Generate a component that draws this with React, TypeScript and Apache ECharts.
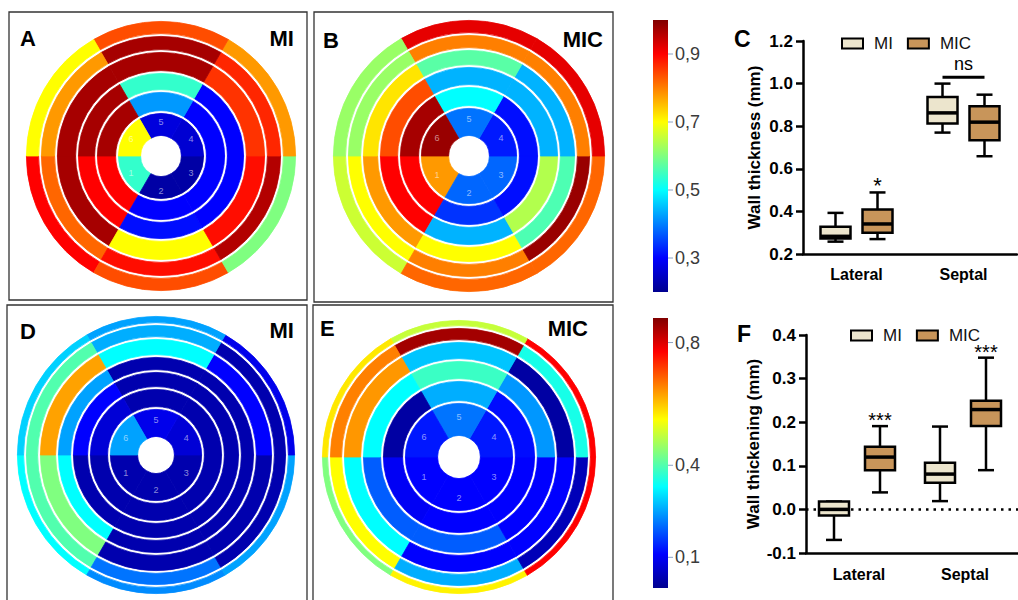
import React, { useEffect, useRef } from "react";
import * as echarts from "echarts";

// ---------------- data ----------------
const SECTOR_LABELS = ["1", "2", "3", "4", "5", "6"];

// Bullseye values, one row per ring (inner -> outer), one column per sector 1..6
const A_MI_THICKNESS = [
  [0.54, 0.22, 0.22, 0.26, 0.27, 0.7],
  [0.9, 0.3, 0.3, 0.3, 0.42, 0.97],
  [0.9, 0.31, 0.3, 0.3, 0.54, 0.97],
  [0.97, 0.7, 0.89, 0.86, 0.97, 0.97],
  [0.82, 0.89, 0.96, 0.87, 0.97, 0.78],
  [0.9, 0.84, 0.6, 0.78, 0.84, 0.7],
];
const B_MIC_THICKNESS = [
  [0.78, 0.38, 0.38, 0.32, 0.39, 0.98],
  [0.9, 0.34, 0.31, 0.31, 0.5, 0.97],
  [0.9, 0.44, 0.64, 0.44, 0.44, 0.84],
  [0.78, 0.7, 0.56, 0.44, 0.57, 0.72],
  [0.7, 0.8, 0.98, 0.8, 0.8, 0.62],
  [0.66, 0.82, 0.82, 0.92, 0.92, 0.62],
];
const D_MI_THICKENING = [
  [0.03, 0.03, 0.03, 0.07, 0.09, 0.25],
  [0.03, 0.03, 0.03, 0.03, 0.03, 0.07],
  [0.03, 0.03, 0.03, 0.03, 0.03, 0.11],
  [0.33, 0.03, 0.03, 0.03, 0.03, 0.25],
  [0.44, 0.03, 0.03, 0.11, 0.33, 0.63],
  [0.4, 0.21, 0.03, 0.03, 0.26, 0.4],
  [0.33, 0.23, 0.25, 0.09, 0.25, 0.29],
];
const E_MIC_THICKENING = [
  [0.11, 0.11, 0.11, 0.13, 0.21, 0.13],
  [0.1, 0.11, 0.11, 0.12, 0.26, 0.02],
  [0.19, 0.19, 0.11, 0.24, 0.38, 0.33],
  [0.33, 0.11, 0.11, 0.02, 0.28, 0.64],
  [0.55, 0.26, 0.04, 0.35, 0.85, 0.66],
  [0.44, 0.56, 0.77, 0.77, 0.5, 0.57],
];

const THICKNESS_RANGE = [0.2, 1.0];
const THICKENING_RANGE = [0, 0.88];
const THICKNESS_TICKS = [0.3, 0.5, 0.7, 0.9];
const THICKENING_TICKS = [0.1, 0.4, 0.8];

const REGIONS = ["Lateral", "Septal"];
// [min, q1, median, q3, max] per region
const C_MI = [
  [0.258, 0.273, 0.283, 0.328, 0.393],
  [0.77, 0.8125, 0.8625, 0.9375, 1.0],
];
const C_MIC = [
  [0.27, 0.3, 0.341, 0.409, 0.489],
  [0.659, 0.734, 0.819, 0.894, 0.948],
];
const F_MI = [
  [-0.07, -0.014, 0.0, 0.018, 0.018],
  [0.019, 0.061, 0.081, 0.107, 0.19],
];
const F_MIC = [
  [0.039, 0.09, 0.12, 0.1435, 0.191],
  [0.09, 0.191, 0.229, 0.249, 0.348],
];
const C_AXIS = [0.2, 1.2, 0.2];
const F_AXIS = [-0.1, 0.4, 0.1];
const C_STARS = [{ region: 0, text: "*", y: 0.52 }];
const C_NS = [{ region: 1, text: "ns", y: 1.03, textY: 1.09 }];
const F_STARS = [
  { region: 0, text: "***", y: 0.205 },
  { region: 1, text: "***", y: 0.36 },
];

// ---------------- styles / layout ----------------
const FONT = "Liberation Sans";
const MI_FILL = "#ece5cd";
const MIC_FILL = "#c8955a";
const BOX_W = 30;
const CAP_W = 16;
const C_OFFSETS = [-21, 21];
const F_OFFSETS = [-25, 21];
const SEAM = 0.8;

const POLAR_PANELS = [
  { values: A_MI_THICKNESS, range: THICKNESS_RANGE, center: [161, 156], radii: [20, 44, 65, 84, 105, 121, 135] },
  { values: B_MIC_THICKNESS, range: THICKNESS_RANGE, center: [469, 156], radii: [20, 49, 70, 90, 107, 122, 136] },
  { values: D_MI_THICKENING, range: THICKENING_RANGE, center: [156, 455], radii: [18, 47, 67, 84, 99, 117, 131, 139] },
  { values: E_MIC_THICKENING, range: THICKENING_RANGE, center: [459, 457], radii: [21, 55, 77, 97, 116, 130, 137] },
];

const JET: [number, number[]][] = [
  [0, [0, 0, 143]],
  [0.125, [0, 0, 255]],
  [0.375, [0, 255, 255]],
  [0.625, [255, 255, 0]],
  [0.875, [255, 0, 0]],
  [1, [128, 0, 0]],
];

function jet(t: number): string {
  const x = Math.max(0, Math.min(1, t));
  for (let k = 1; k < JET.length; k++) {
    if (x <= JET[k][0]) {
      const [t0, c0] = JET[k - 1];
      const [t1, c1] = JET[k];
      const f = (x - t0) / (t1 - t0);
      return `rgb(${c0.map((c, i) => Math.round(c + (c1[i] - c) * f)).join(",")})`;
    }
  }
  return "rgb(128,0,0)";
}

function ringSeries(panel: any) {
  const { values, range, center, radii } = panel;
  const n = values.length;
  const h = SEAM / 2;
  return values.map((ring: number[], i: number) => ({
    type: "pie",
    silent: true,
    center,
    radius: [radii[i] + (i === 0 ? h : 1 + h), radii[i + 1] - (i === n - 1 ? h : 1 + h)],
    startAngle: 180,
    clockwise: false,
    avoidLabelOverlap: false,
    label:
      i === 0
        ? { show: true, position: "inside", formatter: "{b}", color: "rgba(255,255,255,0.55)", fontSize: 9, fontFamily: FONT }
        : { show: false },
    labelLine: { show: false },
    emphasis: { disabled: true },
    data: ring.map((v, j) => {
      const color = jet((v - range[0]) / (range[1] - range[0]));
      return {
        name: SECTOR_LABELS[j],
        value: 1,
        itemStyle: { color, borderColor: color, borderWidth: SEAM },
      };
    }),
  }));
}

function gradient() {
  return new echarts.graphic.LinearGradient(
    0, 1, 0, 0,
    JET.map(([o, c]) => ({ offset: o, color: `rgb(${c.join(",")})` }))
  );
}

function colorbarSeries(axisIndex: number, range: number[], ticks: number[]) {
  return [
    {
      type: "custom",
      silent: true,
      xAxisIndex: axisIndex,
      yAxisIndex: axisIndex,
      data: [[0, range[0], range[1]]],
      renderItem: (_p: any, api: any) => {
        const p0 = api.coord([0, api.value(1)]);
        const p1 = api.coord([1, api.value(2)]);
        return {
          type: "rect",
          shape: { x: p0[0], y: p1[1], width: p1[0] - p0[0], height: p0[1] - p1[1] },
          style: { fill: gradient() },
        };
      },
    },
    {
      type: "custom",
      silent: true,
      xAxisIndex: axisIndex,
      yAxisIndex: axisIndex,
      data: ticks.map((t) => [1, t]),
      renderItem: (_p: any, api: any) => {
        const v = api.value(1);
        const p = api.coord([1, v]);
        return {
          type: "group",
          children: [
            { type: "line", shape: { x1: p[0], y1: p[1], x2: p[0] + 5, y2: p[1] }, style: { stroke: "#8ea4c4", lineWidth: 1 } },
            {
              type: "text",
              x: p[0] + 7,
              y: p[1],
              style: { text: v.toFixed(1).replace(".", ","), fill: "#3a3a3a", fontSize: 18, fontFamily: FONT, verticalAlign: "middle", align: "left" },
            },
          ],
        };
      },
    },
  ];
}

function boxRenderer(offset: number, fill: string) {
  return (_p: any, api: any) => {
    const cat = api.value(0);
    const v = [1, 2, 3, 4, 5].map((i) => api.value(i));
    const xc = api.coord([cat, v[2]])[0] + offset;
    const y = (val: number) => api.coord([cat, val])[1];
    const half = BOX_W / 2;
    const ch = CAP_W / 2;
    const st = { stroke: "#000", lineWidth: 2.5 };
    return {
      type: "group",
      children: [
        { type: "line", shape: { x1: xc, y1: y(v[4]), x2: xc, y2: y(v[3]) }, style: st },
        { type: "line", shape: { x1: xc, y1: y(v[1]), x2: xc, y2: y(v[0]) }, style: st },
        { type: "line", shape: { x1: xc - ch, y1: y(v[4]), x2: xc + ch, y2: y(v[4]) }, style: st },
        { type: "line", shape: { x1: xc - ch, y1: y(v[0]), x2: xc + ch, y2: y(v[0]) }, style: st },
        { type: "rect", shape: { x: xc - half, y: y(v[3]), width: BOX_W, height: y(v[1]) - y(v[3]) }, style: { fill, stroke: "#000", lineWidth: 2.5 } },
        { type: "line", shape: { x1: xc - half, y1: y(v[2]), x2: xc + half, y2: y(v[2]) }, style: { stroke: "#000", lineWidth: 3.5 } },
      ],
    };
  };
}

function boxSeries(name: string, axisIndex: number, stats: number[][], offset: number, fill: string) {
  return {
    type: "custom",
    name,
    xAxisIndex: axisIndex,
    yAxisIndex: axisIndex,
    z: 3,
    itemStyle: { color: fill, borderColor: "#000", borderWidth: 2 },
    encode: { x: 0, y: [1, 2, 3, 4, 5] },
    data: stats.map((s, i) => [i, ...s]),
    renderItem: boxRenderer(offset, fill),
  };
}

function starSeries(axisIndex: number, stars: any[], offset: number, fontSize: number) {
  return {
    type: "custom",
    name: "sig" + axisIndex,
    silent: true,
    xAxisIndex: axisIndex,
    yAxisIndex: axisIndex,
    data: stars.map((s) => [s.region, s.y]),
    renderItem: (p: any, api: any) => {
      const pt = api.coord([api.value(0), api.value(1)]);
      return {
        type: "text",
        x: pt[0] + offset,
        y: pt[1],
        style: { text: stars[p.dataIndex].text, fill: "#000", fontSize, fontFamily: FONT, align: "center", verticalAlign: "middle" },
      };
    },
  };
}

function nsSeries(axisIndex: number, ns: any[], offsets: number[]) {
  return {
    type: "custom",
    name: "ns",
    silent: true,
    xAxisIndex: axisIndex,
    yAxisIndex: axisIndex,
    data: ns.map((s) => [s.region, s.y, s.textY]),
    renderItem: (p: any, api: any) => {
      const cat = api.value(0);
      const pl = api.coord([cat, api.value(1)]);
      const pt = api.coord([cat, api.value(2)]);
      return {
        type: "group",
        children: [
          { type: "line", shape: { x1: pl[0] + offsets[0], y1: pl[1], x2: pl[0] + offsets[1], y2: pl[1] }, style: { stroke: "#000", lineWidth: 3 } },
          { type: "text", x: pt[0], y: pt[1], style: { text: ns[p.dataIndex].text, fill: "#000", fontSize: 18, fontFamily: FONT, align: "center", verticalAlign: "middle" } },
        ],
      };
    },
  };
}

function zeroLineSeries(axisIndex: number) {
  return {
    type: "custom",
    name: "zero",
    silent: true,
    z: 1,
    xAxisIndex: axisIndex,
    yAxisIndex: axisIndex,
    data: [[0, 0]],
    renderItem: (p: any, api: any) => {
      const y = api.coord([0, api.value(1)])[1];
      const cs = p.coordSys;
      return {
        type: "line",
        shape: { x1: cs.x, y1: y, x2: cs.x + cs.width, y2: y },
        style: { stroke: "#000", lineWidth: 2.5, lineDash: [2.5, 5] },
      };
    },
  };
}

function boxXAxis(gridIndex: number, margin: number) {
  return {
    type: "category",
    gridIndex,
    data: REGIONS,
    axisLine: { onZero: false, lineStyle: { color: "#000", width: 2.5 } },
    axisTick: { alignWithLabel: true, length: 7, lineStyle: { color: "#000", width: 2.5 } },
    axisLabel: { color: "#000", fontWeight: "bold", fontSize: 16, fontFamily: FONT, margin },
    splitLine: { show: false },
  };
}

function boxYAxis(gridIndex: number, axis: number[], name: string, nameGap: number) {
  return {
    type: "value",
    gridIndex,
    min: axis[0],
    max: axis[1],
    interval: axis[2],
    axisLine: { show: true, lineStyle: { color: "#000", width: 2.5 } },
    axisTick: { show: true, length: 7, lineStyle: { color: "#000", width: 2.5 } },
    splitLine: { show: false },
    axisLabel: { color: "#000", fontWeight: "bold", fontSize: 17, fontFamily: FONT, margin: 10, formatter: (v: number) => v.toFixed(1) },
    name,
    nameLocation: "middle",
    nameGap,
    nameTextStyle: { color: "#000", fontWeight: "bold", fontSize: 17, fontFamily: FONT },
  };
}

function legendFor(left: number, top: number) {
  return {
    left,
    top,
    icon: "rect",
    itemWidth: 21,
    itemHeight: 10,
    itemGap: 14,
    selectedMode: false,
    textStyle: { fontSize: 17, color: "#111", fontFamily: FONT, padding: [0, 0, 0, 6] },
    data: [
      { name: "MI", itemStyle: { color: MI_FILL, borderColor: "#000", borderWidth: 2 } },
      { name: "MIC", itemStyle: { color: MIC_FILL, borderColor: "#000", borderWidth: 2 } },
    ],
  };
}

function frame(x: number, y: number, w: number, h: number) {
  return { type: "rect", shape: { x, y, width: w, height: h }, style: { fill: "none", stroke: "#333", lineWidth: 1.3 }, silent: true };
}

function label(text: string, x: number, y: number, align: string, size = 22) {
  return {
    type: "text",
    x,
    y,
    z: 100,
    silent: true,
    style: { text, fill: "#000", fontSize: size, fontWeight: "bold", fontFamily: FONT, align, verticalAlign: "top" },
  };
}

function buildOption() {
  const series: any[] = [];
  POLAR_PANELS.forEach((p) => series.push(...ringSeries(p)));
  series.push(...colorbarSeries(2, THICKNESS_RANGE, THICKNESS_TICKS));
  series.push(...colorbarSeries(3, THICKENING_RANGE, THICKENING_TICKS));
  series.push(zeroLineSeries(1));
  series.push(boxSeries("MI", 0, C_MI, C_OFFSETS[0], MI_FILL));
  series.push(boxSeries("MIC", 0, C_MIC, C_OFFSETS[1], MIC_FILL));
  series.push(boxSeries("MI", 1, F_MI, F_OFFSETS[0], MI_FILL));
  series.push(boxSeries("MIC", 1, F_MIC, F_OFFSETS[1], MIC_FILL));
  series.push(starSeries(0, C_STARS, C_OFFSETS[1], 22));
  series.push(nsSeries(0, C_NS, C_OFFSETS));
  series.push(starSeries(1, F_STARS, F_OFFSETS[1], 20));

  return {
    animation: false,
    backgroundColor: "#fff",
    textStyle: { fontFamily: FONT },
    grid: [
      { left: 803, top: 41, width: 214, height: 213 },
      { left: 806, top: 335, width: 228, height: 218 },
      { left: 653, top: 20, width: 15, height: 272 },
      { left: 653, top: 318, width: 15, height: 270 },
    ],
    xAxis: [
      boxXAxis(0, 12),
      boxXAxis(1, 13),
      { type: "value", gridIndex: 2, min: 0, max: 1, show: false },
      { type: "value", gridIndex: 3, min: 0, max: 1, show: false },
    ],
    yAxis: [
      boxYAxis(0, C_AXIS, "Wall thickness (mm)", 40),
      boxYAxis(1, F_AXIS, "Wall thickening (mm)", 44),
      { type: "value", gridIndex: 2, min: THICKNESS_RANGE[0], max: THICKNESS_RANGE[1], show: false },
      { type: "value", gridIndex: 3, min: THICKENING_RANGE[0], max: THICKENING_RANGE[1], show: false },
    ],
    legend: [legendFor(836, 30), legendFor(845, 322)],
    graphic: [
      frame(9, 12, 298, 288),
      frame(314, 12, 299, 290),
      frame(7, 305, 300, 310),
      frame(313, 305, 300, 310),
      label("A", 20, 27, "left"),
      label("MI", 294, 27, "right"),
      label("B", 323, 29, "left"),
      label("MIC", 603, 28, "right"),
      label("D", 20, 320, "left"),
      label("MI", 294, 319, "right"),
      label("E", 320, 317, "left"),
      label("MIC", 588, 317, "right"),
      label("C", 734, 27, "left", 23),
      label("F", 737, 322, "left", 23),
    ],
    series,
  };
}

export default function App() {
  const ref = useRef<HTMLDivElement>(null);
  useEffect(() => {
    const chart = echarts.init(ref.current as HTMLDivElement, null, { renderer: "svg" });
    chart.setOption(buildOption() as any);
    return () => chart.dispose();
  }, []);
  return (
    <div
      ref={ref}
      style={{ position: "absolute", left: 0, top: 0, width: 1018, height: 600, background: "#fff" }}
    />
  );
}
